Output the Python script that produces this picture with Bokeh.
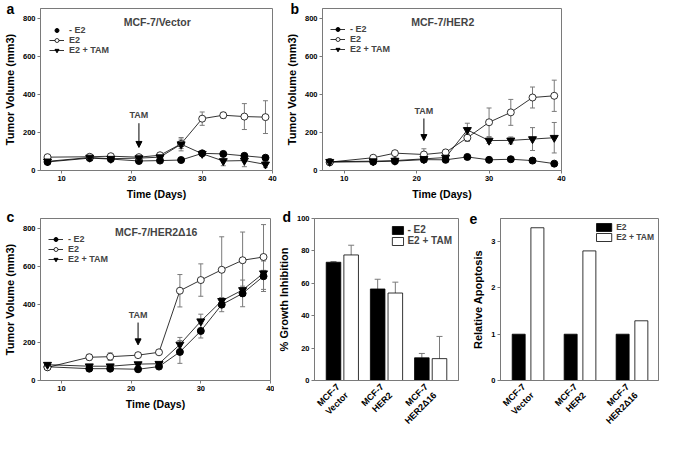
from bokeh.plotting import figure
from bokeh.layouts import column, row
from bokeh.models import (ColumnDataSource, Whisker, TeeHead, Legend, LegendItem, Label,
                          Arrow, NormalHead, FixedTicker, Range1d)
from bokeh.transform import dodge
from bokeh.embed import file_html
from bokeh.resources import INLINE

FONT = "Liberation Sans"
GRAY = "#7a7a7a"

# ---------------- data ----------------
days = [8, 14, 17, 21, 24, 27, 30, 33, 36, 39]
series_labels = ["- E2", "E2", "E2 + TAM"]

a_no_e2 = [45, 65, 60, 50, 52, 55, 90, 87, 77, 67]
a_no_e2_err = [3, 5, 5, 4, 4, 5, 8, 10, 10, 10]
a_e2 = [70, 72, 75, 70, 80, 140, 272, 290, 283, 280]
a_e2_err = [5, 8, 8, 8, 8, 25, 35, 15, 68, 86]
a_e2_tam = [48, 68, 62, 65, 70, 138, 88, 50, 52, 32]
a_e2_tam_err = [3, 8, 8, 8, 8, 35, 10, 25, 32, 15]

b_no_e2 = [44, 46, 49, 57, 56, 71, 56, 59, 52, 36]
b_no_e2_err = [3, 5, 5, 5, 5, 8, 5, 5, 8, 8]
b_e2 = [44, 67, 91, 84, 95, 172, 253, 305, 383, 392]
b_e2_err = [3, 8, 10, 30, 10, 20, 75, 68, 55, 82]
b_e2_tam = [46, 49, 52, 61, 68, 213, 157, 158, 165, 172]
b_e2_tam_err = [3, 8, 8, 8, 8, 35, 15, 18, 60, 80]

c_no_e2 = [72, 62, 62, 59, 73, 150, 260, 398, 457, 547]
c_no_e2_err = [5, 8, 8, 6, 6, 60, 37, 37, 70, 80]
c_e2 = [69, 122, 125, 133, 148, 471, 527, 581, 631, 648]
c_e2_err = [5, 15, 20, 8, 8, 85, 85, 173, 148, 170]
c_e2_tam = [83, 75, 75, 86, 88, 189, 311, 418, 475, 563]
c_e2_tam_err = [5, 5, 5, 5, 5, 37, 37, 15, 20, 15]

panel_letters = ["a", "b", "c", "d", "e"]
line_titles = ["MCF-7/Vector", "MCF-7/HER2", "MCF-7/HER2\u039416"]
line_ticks = [10, 20, 30, 40]
volume_ticks = [0, 200, 400, 600, 800]
tam_day = 21

cell_prefix = "MCF-7"
cell_lines = ["Vector", "HER2", "HER2\u039416"]
d_labels = ["- E2", "E2 + TAM"]
d_no_e2 = [73, 56.5, 14]
d_no_e2_err = [0.4, 6, 2.7]
d_e2_tam = [77.5, 54, 13.5]
d_e2_tam_err = [6, 6.7, 13.7]
d_ticks = [0, 20, 40, 60, 80, 100]

e_labels = ["E2", "E2 + TAM"]
e_e2 = [1, 1, 1]
e_e2_tam = [3.3, 2.8, 1.29]
e_ticks = [0, 1, 2, 3]


def style_axes(p, xlabel_size="10.5px", ylabel_size="11px"):
    for ax in (p.xaxis[0], p.yaxis[0]):
        ax.axis_line_color = GRAY
        ax.major_tick_line_color = GRAY
        ax.minor_tick_line_color = None
        ax.major_tick_out = 3
        ax.major_tick_in = 0
        ax.major_label_text_font = FONT
        ax.major_label_text_font_style = "bold"
        ax.major_label_text_font_size = "7.5px"
        ax.major_label_text_color = "black"
        ax.axis_label_text_font = FONT
        ax.axis_label_text_font_style = "bold"
        ax.axis_label_text_color = "black"
        ax.major_label_standoff = 2
        ax.axis_label_standoff = 4
    p.xaxis[0].axis_label_text_font_size = xlabel_size
    p.yaxis[0].axis_label_text_font_size = ylabel_size
    p.outline_line_color = GRAY
    p.grid.visible = False
    p.background_fill_color = "white"
    p.border_fill_color = "white"


def letter(p, text, offset, standoff):
    t = p.title
    t.text = text
    t.align = "left"
    t.offset = offset
    t.standoff = standoff
    t.text_font = FONT
    t.text_font_style = "bold"
    t.text_font_size = "14px"
    t.text_color = "black"


def make_fig(geom, **kw):
    left, fw, right, top, fh, bottom = geom
    return figure(width=left + fw + right, height=top + fh + bottom,
                  min_border_left=left, min_border_right=right,
                  min_border_top=top, min_border_bottom=bottom,
                  output_backend="svg", toolbar_location=None, **kw)


def line_panel(tag, title, neg, neg_err, e2, e2_err, tam, tam_err,
               tam_text_y, arrow_y0, arrow_y1, geom, first_line, leg_margin,
               tag_offset, tag_standoff):
    p = make_fig(geom, x_range=Range1d(7, 40), y_range=Range1d(0, 850),
                 x_axis_label="Time (Days)", y_axis_label="Tumor Volume (mm3)")
    style_axes(p)
    p.xaxis[0].ticker = FixedTicker(ticks=line_ticks)
    p.yaxis[0].ticker = FixedTicker(ticks=volume_ticks)

    src = ColumnDataSource(dict(
        day=days,
        neg=neg, neg_lo=[v - e for v, e in zip(neg, neg_err)], neg_hi=[v + e for v, e in zip(neg, neg_err)],
        e2=e2, e2_lo=[v - e for v, e in zip(e2, e2_err)], e2_hi=[v + e for v, e in zip(e2, e2_err)],
        tam=tam, tam_lo=[v - e for v, e in zip(tam, tam_err)], tam_hi=[v + e for v, e in zip(tam, tam_err)],
    ))
    for key in ("neg", "e2", "tam"):
        w = Whisker(source=src, base="day", lower=key + "_lo", upper=key + "_hi",
                    line_color=GRAY, line_width=1, level="underlay",
                    upper_head=TeeHead(size=5, line_color=GRAY, line_width=1),
                    lower_head=TeeHead(size=5, line_color=GRAY, line_width=1))
        p.add_layout(w)

    l_e2 = p.line("day", "e2", source=src, line_color="black", line_width=0.8)
    l_neg = p.line("day", "neg", source=src, line_color="black", line_width=0.8)
    l_tam = p.line("day", "tam", source=src, line_color="black", line_width=0.8)
    s_neg = p.scatter("day", "neg", source=src, marker="circle", size=7,
                      fill_color="black", line_color="black")
    s_e2 = p.scatter("day", "e2", source=src, marker="circle", size=7,
                     fill_color="white", line_color="black", line_width=0.8)
    s_tam = p.scatter("day", "tam", source=src, marker="inverted_triangle", size=8,
                      fill_color="black", line_color="black")

    items = [
        LegendItem(label=series_labels[0], renderers=([l_neg, s_neg] if first_line else [s_neg])),
        LegendItem(label=series_labels[1], renderers=[l_e2, s_e2]),
        LegendItem(label=series_labels[2], renderers=[l_tam, s_tam]),
    ]
    leg = Legend(items=items, location="top_left",
                 border_line_color=None, background_fill_alpha=0,
                 padding=0, margin=leg_margin, spacing=0,
                 title=" ", title_text_font_size="7px", title_standoff=1,
                 glyph_width=15, glyph_height=10, label_height=10,
                 label_standoff=5, label_text_font=FONT,
                 label_text_font_style="bold", label_text_font_size="9px")
    p.add_layout(leg)

    p.add_layout(Label(x=23.6, y=780, text=title, text_font=FONT, text_font_style="bold",
                       text_font_size="10.5px", text_align="center", text_baseline="middle"))
    p.add_layout(Label(x=tam_day, y=tam_text_y, text="TAM", text_font=FONT,
                       text_font_style="bold", text_font_size="9px",
                       text_align="center", text_baseline="middle"))
    p.add_layout(Arrow(x_start=tam_day, y_start=arrow_y0, x_end=tam_day, y_end=arrow_y1,
                       line_color="black", line_width=1,
                       end=NormalHead(size=6, fill_color="black", line_color="black")))
    letter(p, tag, tag_offset, tag_standoff)
    return p


pA = line_panel(panel_letters[0], line_titles[0], a_no_e2, a_no_e2_err, a_e2, a_e2_err,
                a_e2_tam, a_e2_tam_err, 289, 248, 121, (34, 238, 10, 8, 162, 32), False, 9,
                -34, -16)
pB = line_panel(panel_letters[1], line_titles[1], b_no_e2, b_no_e2_err, b_e2, b_e2_err,
                b_e2_tam, b_e2_tam_err, 314, 273, 157, (38, 241, 6, 8, 162, 32), True, 8,
                -32, -16)
pC = line_panel(panel_letters[2], line_titles[2], c_no_e2, c_no_e2_err, c_e2, c_e2_err,
                c_e2_tam, c_e2_tam_err, 344, 304, 187, (34, 236, 4, 16, 170, 48), True, 8,
                -34, -12)


def bar_panel(tag, labels, s1, s1_err, s2, s2_err, yr, ticks, ylabel, geom, xr, bw, off,
              leg_margin, leg_font, leg_gw, leg_lh, tag_offset, tag_standoff):
    cat_pos = [i + 1 for i in range(len(cell_lines))]
    p = make_fig(geom, x_range=Range1d(*xr), y_range=Range1d(0, yr), y_axis_label=ylabel)
    style_axes(p, ylabel_size="11px")
    p.yaxis[0].ticker = FixedTicker(ticks=ticks)
    ax = p.xaxis[0]
    ax.ticker = FixedTicker(ticks=cat_pos)
    ax.major_label_overrides = {c: cell_prefix + "\n" + n for c, n in zip(cat_pos, cell_lines)}
    ax.major_tick_line_color = None
    ax.major_tick_out = 0
    ax.major_label_orientation = 0.785
    ax.major_label_text_font_size = "9px"
    ax.major_label_standoff = 9

    data = dict(x=cat_pos, s1=s1, s2=s2)
    if s1_err is not None:
        data["s1_hi"] = [v + e for v, e in zip(s1, s1_err)]
        data["s2_hi"] = [v + e for v, e in zip(s2, s2_err)]
    src = ColumnDataSource(data)
    if s1_err is not None:
        for key, o in (("s1", -off), ("s2", off)):
            p.add_layout(Whisker(source=src, base=dodge("x", o),
                                 lower=key, upper=key + "_hi", line_color=GRAY, line_width=1,
                                 level="underlay", lower_head=None,
                                 upper_head=TeeHead(size=6, line_color=GRAY, line_width=1)))
    r1 = p.vbar(x=dodge("x", -off), top="s1", width=bw, source=src,
                fill_color="black", line_color="black", line_width=0.8)
    r2 = p.vbar(x=dodge("x", off), top="s2", width=bw, source=src,
                fill_color="white", line_color="black", line_width=0.8)
    leg = Legend(items=[LegendItem(label=labels[0], renderers=[r1]),
                        LegendItem(label=labels[1], renderers=[r2])],
                 location="top_right", border_line_color=None,
                 background_fill_alpha=0, padding=0, margin=leg_margin, spacing=0,
                 glyph_width=leg_gw, glyph_height=leg_lh,
                 label_height=leg_lh, label_standoff=3, label_text_font=FONT,
                 label_text_font_style="bold", label_text_font_size=leg_font)
    p.add_layout(leg)
    letter(p, tag, tag_offset, tag_standoff)
    return p


pD = bar_panel(panel_letters[3], d_labels, d_no_e2, d_no_e2_err, d_e2_tam, d_e2_tam_err, 100,
               d_ticks, "% Growth Inhibition", (38, 146, 4, 16, 170, 48), (0.37, 3.63), 0.33, 0.2,
               6, "10px", 14, 10, -32, -12)
pE = bar_panel(panel_letters[4], e_labels, e_e2, None, e_e2_tam, None, 3.5, e_ticks,
               "Relative Apoptosis", (38, 158, 2, 16, 170, 48), (0.47, 3.51), 0.25, 0.18,
               4, "8.5px", 19, 10, -31, -10)

layout = column(row(pA, pB), row(pC, pD, pE))
open("out.html", "w").write(file_html(layout, INLINE))
